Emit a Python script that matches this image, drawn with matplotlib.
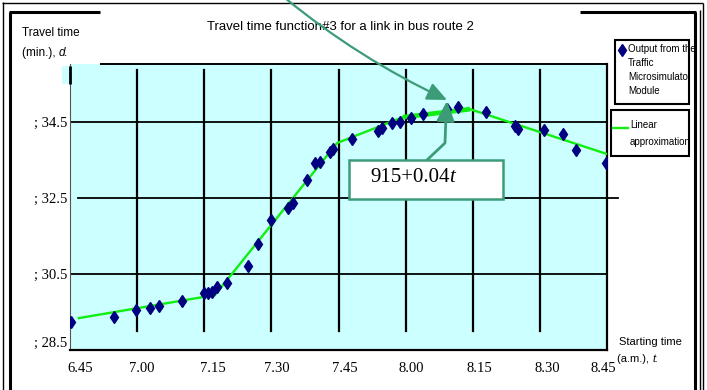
import matplotlib
matplotlib.use("Agg")
import matplotlib.pyplot as plt
from matplotlib.patches import Rectangle, FancyArrowPatch
from matplotlib.path import Path
from matplotlib.lines import Line2D
from matplotlib.offsetbox import TextArea, HPacker, AnnotationBbox
from matplotlib.transforms import ScaledTranslation, Bbox

# starting time, minutes after 6.45 a.m.
tick_t = [0, 15, 30, 45, 60, 75, 90, 105, 120]
tick_lbl = ["6.45", "7.00", "7.15", "7.30", "7.45", "8.00", "8.15", "8.30", "8.45"]
ytick_v = [28.5, 30.5, 32.5, 34.5]
ytick_lbl = ["; 28.5", "; 30.5", "; 32.5", "; 34.5"]

# simulator output (t in min, travel time in min)
obs_t = [0.2, 9.8, 14.8, 17.8, 19.9, 25.0, 30.0, 30.8, 31.7, 32.9, 35.0, 39.8,
         42.0, 45.0, 48.8, 49.8, 53.0, 54.8, 55.9, 58.1, 58.8, 63.0, 68.8, 69.7,
         72.0, 73.7, 76.2, 78.9, 84.2, 86.7, 93.0, 99.4, 100.0, 106.0, 110.2,
         113.0, 119.8]
obs_d = [29.24, 29.37, 29.55, 29.60, 29.66, 29.80, 30.00, 30.00, 30.03, 30.16,
         30.26, 30.70, 31.29, 31.92, 32.23, 32.37, 32.97, 33.42, 33.45, 33.70,
         33.79, 34.05, 34.26, 34.34, 34.47, 34.50, 34.60, 34.71, 34.84, 34.90,
         34.76, 34.39, 34.33, 34.29, 34.20, 33.76, 33.42]

# piecewise linear approximation
lin1_t = [2.0, 30.0]
lin1_d = [29.34, 29.90]
lin2_t = [32.4, 59.7, 74.4, 89.4, 120.0]
lin2_d = [29.95, 33.95, 34.63, 34.84, 33.66]

W, H = 707, 390
GREEN = "#11ee11"
TEAL = "#3c9c78"
SANS = "Liberation Sans"
SERIF = "Liberation Serif"


def fp(x, y):
    # pixel position (from top-left) -> figure fraction
    return (x / W, 1 - y / H)


def fline(x0, y0, x1, y1, lw, color="k"):
    (a, b), (c, d) = fp(x0, y0), fp(x1, y1)
    fig.add_artist(Line2D([a, c], [b, d], color=color, lw=lw,
                          solid_capstyle="butt"))


def mixed(x, y, parts, size, family):
    # one line of text with mixed upright / italic pieces, left aligned
    boxes = [TextArea(s, textprops=dict(fontsize=size, family=family, style=st))
             for s, st in parts]
    pack = HPacker(children=boxes, pad=0, sep=0, align="baseline")
    ab = AnnotationBbox(pack, fp(x, y), xycoords="figure fraction",
                        box_alignment=(0, 0.5), frameon=False, pad=0,
                        zorder=6)
    fig.add_artist(ab)


fig = plt.figure(figsize=(W / 100, H / 100), dpi=100)
ax = fig.add_axes([70 / W, 40 / H, 537 / W, 286 / H])
ax.set_facecolor("#ccffff")
ax.set_xlim(0, 120)
ax.set_ylim(28.5, 36.03)

# grid
for t in tick_t[1:-1]:
    ax.axvline(t, ymin=0.066, ymax=0.979, color="k", lw=1.6, zorder=2)
ax.axhline(34.5, xmin=0, xmax=1.0, color="k", lw=1.3, zorder=2)
ax.axhline(32.5, xmin=0.015, xmax=1.02, color="k", lw=1.3, zorder=2,
           clip_on=False)
ax.axhline(30.5, xmin=0, xmax=1.0, color="k", lw=1.3, zorder=2)

ax.plot(lin1_t, lin1_d, color=GREEN, lw=1.7, zorder=3)
ax.plot(lin2_t, lin2_d, color=GREEN, lw=1.7, zorder=3)
ax.plot(lin2_t[2:4], lin2_d[2:4], color=GREEN, lw=3.4, zorder=3,
        solid_capstyle="butt")
ax.plot(obs_t, obs_d, "d", color="#000080", ms=6.5, mec="#000080", zorder=4)

ax.spines["top"].set_visible(False)
ax.spines["left"].set_color("#555555")
ax.spines["left"].set_linewidth(0.8)
for s in ("bottom", "right"):
    ax.spines[s].set_linewidth(1.6)
    ax.spines[s].set_color("k")

ax.set_xticks(tick_t, labels=tick_lbl, fontfamily=SERIF, fontsize=10.5)
ax.set_yticks(ytick_v, labels=ytick_lbl, fontfamily=SERIF, fontsize=10.5)
ax.tick_params(axis="x", length=0, pad=9)
ax.tick_params(axis="y", length=0, pad=2)
for lab, dx in zip(ax.get_xticklabels(), [10, 5, 9, 5, 6, 6, 7, 7, -4]):
    lab.set_transform(lab.get_transform()
                      + ScaledTranslation(dx / 100, 0, fig.dpi_scale_trans))
ylabs = ax.get_yticklabels()
ylabs[0].set_transform(ylabs[0].get_transform()
                       + ScaledTranslation(0, 8 / 100, fig.dpi_scale_trans))

# top edge of the plot area and the small patch at its left corner
fline(100, 64, 607, 64, 1.4)
x0, y0 = fp(62, 84)
fig.add_artist(Rectangle((x0, y0), 8 / W, 18 / H, facecolor="#ccffff",
                         edgecolor="none", transform=fig.transFigure))
fline(70, 66, 70, 84, 2.0)

# frame around the figure
fline(3, 2, 3, 390, 1.0)
fline(10, 12, 10, 390, 2.2)
fline(2, 3, 703, 3, 1.0)
fline(9, 12, 100, 12, 2.2)
fline(580, 12, 696, 12, 2.2)
fline(695, 12, 695, 390, 2.2)
fline(699.5, 10, 699.5, 390, 1.0)
fline(702.5, 3, 702.5, 390, 1.0)

# titles
fig.text(*fp(340, 27), "Travel time function#3 for a link in bus route 2",
         ha="center", va="center", family=SANS, fontsize=9.5)
fig.text(*fp(22, 33), "Travel time", ha="left", va="center",
         family=SANS, fontsize=8.5)
mixed(22, 53, [("(min.), ", "normal"), ("d.", "italic")], 8.5, SANS)
fig.text(*fp(619, 342), "Starting time", ha="left", va="center",
         family=SANS, fontsize=8)
mixed(617, 359, [("(a.m.), ", "normal"), ("t.", "italic")], 8, SANS)

# legend boxes
for (bx0, by0, bx1, by1) in [(615, 40, 689, 104), (611, 110, 689, 156)]:
    lx, ly = fp(bx0, by1)
    fig.add_artist(Rectangle((lx, ly), (bx1 - bx0) / W, (by1 - by0) / H,
                             facecolor="white", edgecolor="k", lw=1.5,
                             transform=fig.transFigure, zorder=5))
mx, my = fp(622, 50)
fig.add_artist(Line2D([mx], [my], marker="d", ms=6.5, color="#000080",
                      zorder=6))
gx0, gy = fp(613, 128)
gx1, _ = fp(628, 128)
fig.add_artist(Line2D([gx0, gx1], [gy, gy], color=GREEN, lw=1.7, zorder=6))

leg_lines = [("Output from the", 628, 49, 696), ("Traffic", 628, 63, 689),
             ("Microsimulator", 628, 77, 689), ("Module", 628, 91, 689),
             ("Linear", 630, 125, 692), ("approximation", 630, 142, 692)]
for s, x, y, xclip in leg_lines:
    t = fig.text(*fp(x, y), s, ha="left", va="center", family=SANS,
                 fontsize=7, zorder=6)
    t.set_clip_box(Bbox.from_extents(0, 0, xclip, H))
    t.set_clip_on(True)

# equation box and arrows
bx, by = fp(349, 199)
fig.add_artist(Rectangle((bx, by), 154 / W, 39 / H, facecolor="white",
                         edgecolor=TEAL, lw=1.8, transform=fig.transFigure,
                         zorder=5))
mixed(370, 178, [("915+0.04", "normal"), ("t", "italic")], 15, SERIF)

p1 = Path([fp(427, 160), fp(445, 143), fp(446, 115), fp(447, 101)],
          [Path.MOVETO, Path.LINETO, Path.LINETO, Path.LINETO])
fig.add_artist(FancyArrowPatch(path=p1, transform=fig.transFigure,
                               arrowstyle="-|>,head_length=1.0,head_width=0.45",
                               mutation_scale=12, color=TEAL, lw=2.0,
                               zorder=7))
p2 = Path([fp(285, -2), fp(358, 58), fp(447, 100)],
          [Path.MOVETO, Path.CURVE3, Path.CURVE3])
fig.add_artist(FancyArrowPatch(path=p2, transform=fig.transFigure,
                               arrowstyle="-|>,head_length=1.0,head_width=0.45",
                               mutation_scale=12, color=TEAL, lw=1.6,
                               zorder=7))

fig.savefig("out.png", dpi=100)
